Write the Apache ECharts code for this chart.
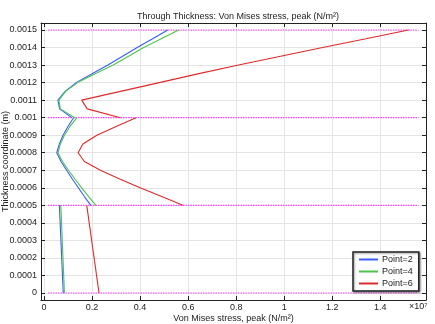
<!DOCTYPE html>
<html><head><meta charset="utf-8">
<script src="https://cdn.jsdelivr.net/npm/echarts@6/dist/echarts.min.js"></script>
<style>html,body{margin:0;padding:0;background:#fff}#c{width:435px;height:324px}</style>
</head><body><div id="c"></div>
<script>
// Stress values in units of 1e7 N/m^2, thickness in m
var layer1Y = [0, 0.0005];
var p2Layer1 = [0.080, 0.064];
var p4Layer1 = [0.085, 0.070];
var p6Layer1 = [0.229, 0.178];

var layer2Y = [0.0005, 0.00055, 0.0006, 0.00065, 0.0007, 0.00075, 0.0008, 0.00085, 0.0009, 0.00095, 0.001];
var p2Layer2 = [0.195, 0.168, 0.143, 0.118, 0.094, 0.071, 0.053, 0.064, 0.079, 0.100, 0.123];
var p4Layer2 = [0.216, 0.186, 0.157, 0.129, 0.102, 0.077, 0.058, 0.068, 0.085, 0.108, 0.137];
var p6Layer2 = [0.578, 0.490, 0.400, 0.315, 0.235, 0.168, 0.142, 0.162, 0.220, 0.300, 0.383];

var layer3Y = [0.001, 0.00105, 0.0011, 0.00115, 0.0012, 0.00125, 0.0013, 0.00135, 0.0014, 0.00145, 0.0015];
var p2Layer3 = [0.115, 0.065, 0.058, 0.088, 0.134, 0.200, 0.266, 0.327, 0.388, 0.452, 0.515];
var p4Layer3 = [0.128, 0.068, 0.062, 0.090, 0.140, 0.213, 0.288, 0.352, 0.415, 0.488, 0.560];
var p6Layer3 = [0.318, 0.180, 0.157, 0.318, 0.480, 0.640, 0.810, 0.985, 1.160, 1.340, 1.517];

var interfaceY = [0, 0.0005, 0.001, 0.0015];
var interfaceX = [0.0165, 1.558];

var xTicks = [0, 0.2, 0.4, 0.6, 0.8, 1, 1.2, 1.4];
var yTicks = [0, 0.0001, 0.0002, 0.0003, 0.0004, 0.0005, 0.0006, 0.0007, 0.0008, 0.0009, 0.001, 0.0011, 0.0012, 0.0013, 0.0014, 0.0015];
var yTickLabels = ['0','0.0001','0.0002','0.0003','0.0004','0.0005','0.0006','0.0007','0.0008','0.0009','0.001','0.0011','0.0012','0.0013','0.0014','0.0015'];

var names = ['Point=2', 'Point=4', 'Point=6'];
var colors = ['#3a5cff', '#4cc44c', '#dd2a2a'];
var pointLayers = [
  [p2Layer1, p2Layer2, p2Layer3],
  [p4Layer1, p4Layer2, p4Layer3],
  [p6Layer1, p6Layer2, p6Layer3]
];
var layerYs = [layer1Y, layer2Y, layer3Y];

function pairs(xs, ys) { return xs.map(function (v, i) { return [v, ys[i]]; }); }

var series = [];
interfaceY.forEach(function (yv) {
  series.push({
    type: 'line', silent: true, symbol: 'none', z: 1,
    data: [[interfaceX[0], yv], [interfaceX[1], yv]],
    lineStyle: { color: '#ff44ff', width: 1.2, type: [1.5, 1] }
  });
});
pointLayers.forEach(function (layers, k) {
  layers.forEach(function (xs, li) {
    series.push({
      name: names[k], type: 'line', symbol: 'none', z: 3,
      data: pairs(xs, layerYs[li]),
      lineStyle: { color: colors[k], width: 1.1 },
      itemStyle: { color: colors[k] }
    });
  });
});

var font = 'Liberation Sans';
var fs = 9;
var frame = { show: true, onZero: false, lineStyle: { color: '#222', width: 1 } };
var xRange = { min: -0.0125, max: 1.59 };
var yRange = { min: -0.00004, max: 0.00154 };

var option = {
  animation: false,
  backgroundColor: '#fff',
  title: {
    text: 'Through Thickness: Von Mises stress, peak (N/m²)',
    left: 233, top: 7, textAlign: 'center',
    textStyle: { fontFamily: font, fontSize: fs, fontWeight: 'normal', color: '#222' }
  },
  legend: {
    data: names, orient: 'vertical', left: 353, top: 252,
    icon: 'rect', itemWidth: 19, itemHeight: 2, itemGap: 3,
    padding: [3, 6, 3, 6],
    borderColor: '#222', borderWidth: 1.5, backgroundColor: '#fff',
    shadowColor: 'rgba(0,0,0,0.4)', shadowBlur: 2, shadowOffsetX: 1, shadowOffsetY: 1,
    textStyle: { fontFamily: font, fontSize: fs, color: '#222', padding: [0, 0, 0, -1] }
  },
  grid: { left: 41, right: 9, top: 23, bottom: 24, containLabel: false, outerBoundsMode: 'none' },
  xAxis: [{
    type: 'value', min: xRange.min, max: xRange.max, position: 'bottom',
    name: 'Von Mises stress, peak (N/m²)', nameLocation: 'middle', nameGap: 14, nameMoveOverlap: false,
    nameTextStyle: { fontFamily: font, fontSize: fs, color: '#222' },
    axisLine: frame,
    axisTick: { show: true, inside: true, length: 4, customValues: xTicks, lineStyle: { color: '#222' } },
    axisLabel: { customValues: xTicks, margin: 3, fontFamily: font, fontSize: fs, color: '#222',
      formatter: function (v) { return String(Math.round(v * 10) / 10); } },
    splitLine: { show: true, lineStyle: { color: '#e4e4e4', width: 1 } }
  }, {
    type: 'value', min: xRange.min, max: xRange.max, position: 'top',
    axisLine: frame,
    axisTick: { show: true, inside: true, length: 4, customValues: xTicks, lineStyle: { color: '#222' } },
    axisLabel: { show: false }, splitLine: { show: false }
  }],
  yAxis: [{
    type: 'value', min: yRange.min, max: yRange.max, position: 'left',
    name: 'Thickness coordinate (m)', nameLocation: 'middle', nameGap: 31, nameRotate: 90, nameMoveOverlap: false,
    nameTextStyle: { fontFamily: font, fontSize: fs, color: '#222' },
    axisLine: frame,
    axisTick: { show: true, inside: true, length: 4, customValues: yTicks, lineStyle: { color: '#222' } },
    axisLabel: { customValues: yTicks, margin: 4, fontFamily: font, fontSize: fs, color: '#222',
      formatter: function (v) {
        var best = yTickLabels[0], d = 1;
        yTicks.forEach(function (t, i) { if (Math.abs(t - v) < d) { d = Math.abs(t - v); best = yTickLabels[i]; } });
        return best;
      } },
    splitLine: { show: true, lineStyle: { color: '#e4e4e4', width: 1 } }
  }, {
    type: 'value', min: yRange.min, max: yRange.max, position: 'right',
    axisLine: frame,
    axisTick: { show: true, inside: true, length: 4, customValues: yTicks, lineStyle: { color: '#222' } },
    axisLabel: { show: false }, splitLine: { show: false }
  }],
  graphic: [{
    type: 'text', left: 409, top: 302,
    style: { text: '×10⁷', fontFamily: font, fontSize: fs, fill: '#222' }
  }],
  series: series
};
var chart = echarts.init(document.getElementById('c'), null, { renderer: 'canvas' });
chart.setOption(option);
</script></body></html>
